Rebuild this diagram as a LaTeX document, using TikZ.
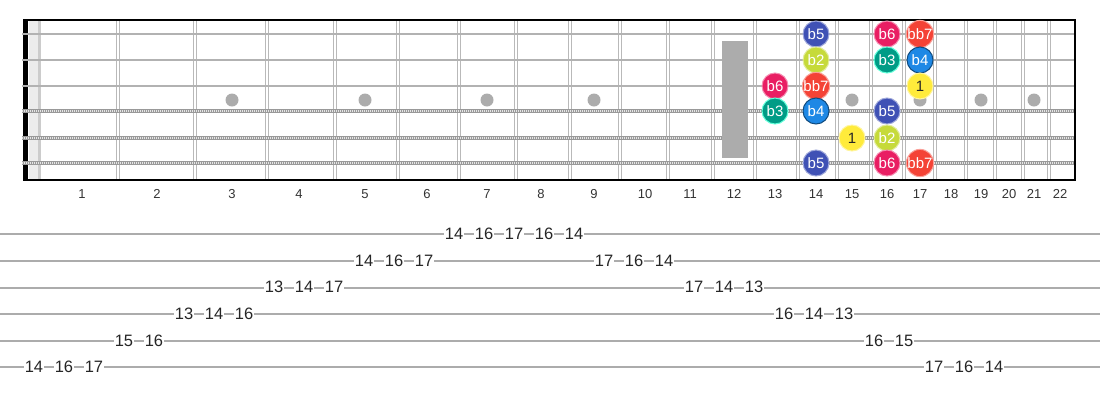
\documentclass[tikz,border=0pt]{standalone}
\usepackage{fontspec}
\setmainfont{Liberation Sans}
\usetikzlibrary{positioning}
\definecolor{degb5}{HTML}{3F51B5}
\definecolor{degb6}{HTML}{E91E63}
\definecolor{degbb7}{HTML}{F44336}
\definecolor{degb2}{HTML}{C6DA3A}
\definecolor{degb3}{HTML}{009C86}
\definecolor{degb3ring}{HTML}{64FFDA}
\definecolor{degb4}{HTML}{1E88E5}
\definecolor{degroot}{HTML}{FFEB3B}
\tikzset{
	fretline/.style={draw=gray!55,line width=1.2pt},
	plainstring/.style={draw=gray!60,line width=2.6pt},
	woundbase/.style={draw=gray!80,line width=4pt},
	woundwire/.style={draw=gray!20,line width=2.4pt,dash pattern=on 1pt off 1pt},
	fretnum/.style={text=black!80,font=\fontsize{13}{13}\selectfont,inner sep=1pt},
	tabline/.style={draw=gray!65,line width=1.6pt},
	tabnum/.style={fill=white,text=black!85,font=\fontsize{16.5}{16.5}\selectfont,inner sep=1pt},
	markdot/.style={fill=gray!65},
	note/.style={circle,fill=#1,draw=#1!50!white,line width=1pt,minimum size=26pt,inner sep=0pt,text=white,font=\fontsize{15}{15}\selectfont}
}
\begin{document}
\begin{tikzpicture}[x=1pt,y=-1pt]
		\useasboundingbox (0,0) rectangle (1100,400);
		\coordinate (s1) at (0,34);
		\coordinate (s2) at (0,60);
		\coordinate (s3) at (0,86);
		\coordinate (s4) at (0,111);
		\coordinate (s5) at (0,138);
		\coordinate (s6) at (0,163);
		\coordinate (dotrow) at (0,100);
		% nut
		\fill[black] (23,20) rectangle (28,180);
		\fill[gray!15] (29,20) rectangle (38,180);
		\fill[gray!40] (38,20) rectangle (41,180);
		% frets
		\foreach \x in {118,195,267,335,398,459,516,570,620,668,713,755,798,837,871,904,935,966,995,1023,1049}
			{\draw[fretline] (\x-1.7,20) -- (\x-1.7,180);
			\draw[fretline] (\x+1.7,20) -- (\x+1.7,180);}
		\foreach \n/\x in {1/82,2/157,3/232,4/299,5/365,6/427,7/487,8/541,9/594,10/645,11/690,12/734,13/775,14/816,15/852,16/887,17/920,18/951,19/981,20/1009,21/1034,22/1060}
			\node[fretnum] (fn\n) at (\x,194) {\n};
		% strings
		\foreach \y in {34,60,86}
			\draw[plainstring] (22,\y) -- (1074,\y);
		\foreach \y in {111,138,163}
			{\draw[woundbase] (22,\y) -- (1074,\y);
			\draw[woundwire] (22,\y) -- (1074,\y);}
		% inlays
		\foreach \n in {3,5,7,9,15,17,19,21}
			\fill[markdot] (fn\n |- dotrow) circle (6.5);
		\fill[markdot] (722,41) rectangle (748,158);
		% border
		\draw[line width=1.5pt] (23,20) -- (1075,20);
		\draw[line width=1.5pt] (23,180) -- (1075,180);
		\draw[line width=2pt] (1075,19.25) -- (1075,180.75);
		% scale notes
		\node[note=degb5] (s1f14) at (fn14 |- s1) {b5};
		\node[note=degb6] (s1f16) at (fn16 |- s1) {b6};
		\node[note=degbb7] (s1f17) at (fn17 |- s1) {bb7};
		\node[note=degb2] (s2f14) at (fn14 |- s2) {b2};
		\node[note=degb3,draw=degb3ring] (s2f16) at (fn16 |- s2) {b3};
		\node[note=degb4,draw=degb4!55!black] (s2f17) at (fn17 |- s2) {b4};
		\node[note=degb6] (s3f13) at (fn13 |- s3) {b6};
		\node[note=degbb7] (s3f14) at (fn14 |- s3) {bb7};
		\node[note=degroot,text=black!85] (s3f17) at (fn17 |- s3) {1};
		\node[note=degb3,draw=degb3ring] (s4f13) at (fn13 |- s4) {b3};
		\node[note=degb4,draw=degb4!55!black] (s4f14) at (fn14 |- s4) {b4};
		\node[note=degb5] (s4f16) at (fn16 |- s4) {b5};
		\node[note=degroot,text=black!85] (s5f15) at (fn15 |- s5) {1};
		\node[note=degb2] (s5f16) at (fn16 |- s5) {b2};
		\node[note=degb5] (s6f14) at (fn14 |- s6) {b5};
		\node[note=degb6] (s6f16) at (fn16 |- s6) {b6};
		\node[note=degbb7] (s6f17) at (fn17 |- s6) {bb7};
		% tab
		\foreach \y in {234,261,288,314,341,367}
			\draw[tabline] (0,\y) -- (1100,\y);
		\foreach \s/\f [count=\i from 0] in {6/14,6/16,6/17,5/15,5/16,4/13,4/14,4/16,3/13,3/14,3/17,2/14,2/16,2/17,1/14,1/16,1/17,1/16,1/14,2/17,2/16,2/14,3/17,3/14,3/13,4/16,4/14,4/13,5/16,5/15,6/17,6/16,6/14}
			\node[tabnum] (tab\i) at (34+30*\i,207.4+26.6*\s) {\f};
\end{tikzpicture}
\end{document}
